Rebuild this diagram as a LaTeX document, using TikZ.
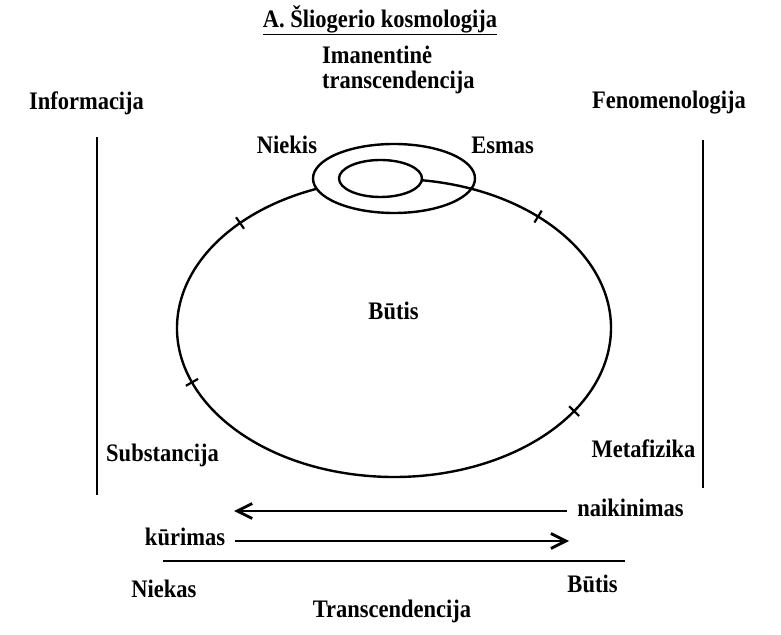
\documentclass[tikz,border=0pt]{standalone}
\usepackage{fontspec}
\setmainfont{Liberation Serif}
\usepackage{graphicx}
\usepackage{tikz}
\usetikzlibrary{positioning}
\usetikzlibrary{calc}
\usetikzlibrary{arrows.meta}
\newcommand{\tall}[1]{\scalebox{1}[1.12]{#1}}

\begin{document}
\begin{tikzpicture}[x=1pt, y=1pt,
	lbl/.style={inner sep=0pt, font=\bfseries\fontsize{22.5}{25}\selectfont},
	thick line/.style={line width=2.4pt},
	bar/.style={line width=2.8pt},
	barb/.style={line width=2.8pt, -{Straight Barb[length=15pt, width=15pt]}}]
	\useasboundingbox (0,0) rectangle (781,634);
	% Centres of the ellipses
	\coordinate (bigc) at (394,306);
	\coordinate (smallc) at (394,455.5);
	\coordinate (innerc) at (380.5,455.5);
	% Draw the nodes
	\node [lbl] at (380,614) (title) {\underline{\tall{A. Šliogerio kosmologija}}};
	\node [lbl, align=left, anchor=west] at (322,564.5) (imanent) {\tall{Imanentinė}\\\tall{transcendencija}};
	\node [lbl] at (86.5,531) (info) {\tall{Informacija}};
	\node [lbl] at (669,531) (fenom) {\tall{Fenomenologija}};
	\node [lbl] at (287,489) (niekis) {\tall{Niekis}};
	\node [lbl] at (502.5,489) (esmas) {\tall{Esmas}};
	\node [lbl] at (393.5,323) (butis) {\tall{Būtis}};
	\node [lbl] at (162.5,179) (subst) {\tall{Substancija}};
	\node [lbl] at (643.5,185) (metaf) {\tall{Metafizika}};
	% Bottom part
	\node [lbl] at (630.5,126) (naik) {\tall{naikinimas}};
	\node [lbl] at (185,97) (kur) {\tall{kūrimas}};
	\node [lbl] at (164,45) (niekas) {\tall{Niekas}};
	\node [lbl] at (592.5,50) (butis2) {\tall{Būtis}};
	\node [lbl] at (392,23) (transc) {\tall{Transcendencija}};
	\coordinate (naikend) at (234,123);
	\coordinate (kurend) at (569,93);
	\coordinate (baseL) at (163,73);
	\coordinate (baseR) at (625,73);

	% Draw the ellipses
	\draw [thick line] (smallc) ellipse [x radius=81, y radius=34.5];
	\draw [thick line] (innerc) ellipse [x radius=41.5, y radius=18.5];
	\draw [thick line] ($(bigc)+(82.6:217 and 149)$) arc [start angle=82.6, end angle=-249.2, x radius=217, y radius=149];
	% Ticks on the big ellipse
	\foreach \t/\n in {135.2/124.8, 48.4/58.6, 201.4/209.6, -33.9/-44.4}
		\draw [line width=2.2pt] ($(bigc)+(\t:217 and 149)+(\n:-7)$) -- ++(\n:14);

	% Draw the lines and arrows
	\draw [bar] (97,497) -- (97,139);
	\draw [bar] (703,494) -- (703,146);
	\draw [barb] ([xshift=-10pt]naik.west |- naikend) -- (naikend);
	\draw [barb] ([xshift=10pt]kur.east |- kurend) -- (kurend);
	\draw [bar] (baseL) -- (baseR);
\end{tikzpicture}
\end{document}
